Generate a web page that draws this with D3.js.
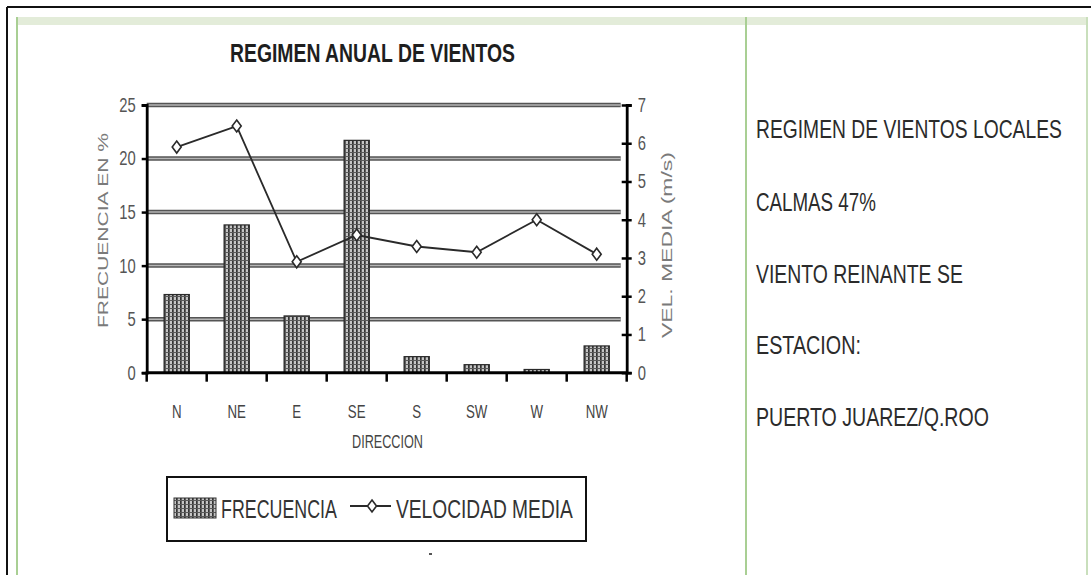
<!DOCTYPE html>
<html>
<head>
<meta charset="utf-8">
<script src="https://cdn.jsdelivr.net/npm/d3@7"></script>
<style>
  html, body { margin: 0; padding: 0; background: #fff; }
  svg { display: block; }
</style>
</head>
<body>
<svg id="chart" width="1091" height="575"></svg>
<script>
// Annual wind regime: frequency per direction (bars) and mean speed (line)
const directions = ["N", "NE", "E", "SE", "S", "SW", "W", "NW"];
const frecuencia = [7.3, 13.8, 5.3, 21.7, 1.5, 0.75, 0.3, 2.5];        // %
const velocidadMedia = [5.9, 6.45, 2.9, 3.6, 3.3, 3.15, 4.0, 3.1];     // m/s
const freqTicks = [0, 5, 10, 15, 20, 25];
const velTicks = [0, 1, 2, 3, 4, 5, 6, 7];
const notes = ["REGIMEN DE VIENTOS LOCALES", "CALMAS 47%", "VIENTO REINANTE SE", "ESTACION:", "PUERTO JUAREZ/Q.ROO"];

const svg = d3.select("#chart");
const FONT = '"Liberation Sans Narrow", "Arial Narrow", "Liberation Sans", Arial, sans-serif';

// Narrow lettering: squeeze a text horizontally to a given width.
function narrowText(parent, str, x, y, width, opts) {
  const t = parent.append("text").attr("x", 0).attr("y", 0)
    .attr("font-family", FONT).attr("font-size", opts.size)
    .attr("font-weight", opts.weight || "normal").attr("fill", opts.fill || "#222")
    .text(str);
  const natural = t.node().getComputedTextLength();
  const s = width / natural;
  const rot = opts.rotate ? ` rotate(${opts.rotate})` : "";
  t.attr("transform", `translate(${x},${y})${rot} scale(${s},1)`);
  return t;
}

// ---- page frame ----
svg.append("rect").attr("x", 17).attr("y", 17).attr("width", 1070).attr("height", 8).attr("fill", "#e3ecd9");
svg.append("line").attr("x1", 7).attr("y1", 7).attr("x2", 1091).attr("y2", 7).attr("stroke", "#111").attr("stroke-width", 2);
svg.append("line").attr("x1", 7).attr("y1", 7).attr("x2", 7).attr("y2", 575).attr("stroke", "#111").attr("stroke-width", 2);
svg.append("line").attr("x1", 17).attr("y1", 17).attr("x2", 17).attr("y2", 575).attr("stroke", "#a9cf94").attr("stroke-width", 2);
svg.append("line").attr("x1", 746).attr("y1", 17).attr("x2", 746).attr("y2", 575).attr("stroke", "#a9cf94").attr("stroke-width", 2);
svg.append("line").attr("x1", 1087).attr("y1", 17).attr("x2", 1087).attr("y2", 575).attr("stroke", "#c9dfbc").attr("stroke-width", 2);

// ---- hatch pattern for the bars ----
const defs = svg.append("defs");
const pat = defs.append("pattern").attr("id", "hatch").attr("patternUnits", "userSpaceOnUse")
  .attr("width", 4).attr("height", 4);
pat.append("rect").attr("width", 4).attr("height", 4).attr("fill", "#c4c4c4");
pat.append("rect").attr("x", 0).attr("y", 0).attr("width", 1.7).attr("height", 4).attr("fill", "#333");
pat.append("rect").attr("x", 0).attr("y", 0).attr("width", 4).attr("height", 1).attr("fill", "#5a5a5a");

// ---- scales ----
const plot = { left: 146.7, right: 626.7, top: 105, bottom: 372.7 };
const x = d3.scaleBand().domain(directions).range([plot.left, plot.right]).padding(0);
const yF = d3.scaleLinear().domain([0, 25]).range([plot.bottom, plot.top]);
const yV = d3.scaleLinear().domain([0, 7]).range([plot.bottom, plot.top]);

// ---- title ----
narrowText(svg, "REGIMEN ANUAL DE VIENTOS", 230, 62, 285, { size: 25, weight: "bold", fill: "#1e1e1e" });

// ---- gridlines ----
const grid = svg.append("g");
freqTicks.filter(d => d > 0).forEach(d => {
  grid.append("line").attr("x1", plot.left).attr("x2", plot.right - 6)
    .attr("y1", yF(d)).attr("y2", yF(d)).attr("stroke", "#555").attr("stroke-width", 4.5);
  grid.append("line").attr("x1", plot.left).attr("x2", plot.right - 6)
    .attr("y1", yF(d)).attr("y2", yF(d)).attr("stroke", "#b5b5b5").attr("stroke-width", 1.5);
});

// ---- bars ----
const bw = x.bandwidth() * 0.42;
svg.append("g").selectAll("rect").data(directions).join("rect")
  .attr("x", d => x(d) + (x.bandwidth() - bw) / 2)
  .attr("y", (d, i) => yF(frecuencia[i]))
  .attr("width", bw)
  .attr("height", (d, i) => plot.bottom - yF(frecuencia[i]))
  .attr("fill", "url(#hatch)")
  .attr("stroke", "#2a2a2a").attr("stroke-width", 1.2);

// ---- axes ----
const leftAxis = svg.append("g").attr("transform", `translate(${plot.left},0)`)
  .call(d3.axisLeft(yF).tickValues(freqTicks).tickFormat(d3.format("d")).tickSize(5).tickPadding(6));
const rightAxis = svg.append("g").attr("transform", `translate(${plot.right},0)`)
  .call(d3.axisRight(yV).tickValues(velTicks).tickFormat(d3.format("d")).tickSize(5).tickPadding(7));
rightAxis.selectAll(".tick line").attr("x1", -5);
[leftAxis, rightAxis].forEach(a => {
  a.select(".domain").attr("stroke", "#000").attr("stroke-width", 2.8);
  a.selectAll(".tick line").attr("stroke", "#000").attr("stroke-width", 2.5);
  a.selectAll(".tick text").attr("font-family", FONT).attr("font-size", 20).attr("fill", "#555");
});
// condensed digits, keeping each label anchored at its axis side
leftAxis.selectAll(".tick text").attr("transform", "translate(-11,0) scale(0.74,1)").attr("x", 0);
rightAxis.selectAll(".tick text").attr("transform", "translate(11,0) scale(0.74,1)").attr("x", 0);

// bottom axis with ticks at category boundaries
const bottom = svg.append("g").attr("transform", `translate(0,${plot.bottom})`)
  .call(d3.axisBottom(x).tickSize(0).tickPadding(0));
bottom.select(".domain").remove();
bottom.selectAll(".tick text").attr("font-family", FONT).attr("font-size", 19).attr("fill", "#444")
  .attr("dy", 0).attr("y", 0).attr("transform", "translate(0,45) scale(0.7,1)");
svg.append("line").attr("x1", plot.left - 1).attr("x2", plot.right + 1)
  .attr("y1", plot.bottom).attr("y2", plot.bottom).attr("stroke", "#000").attr("stroke-width", 3);
const bounds = directions.map(d => x(d)).concat([plot.right]);
svg.append("g").selectAll("line").data(bounds).join("line")
  .attr("x1", d => d).attr("x2", d => d)
  .attr("y1", plot.bottom).attr("y2", plot.bottom + 9)
  .attr("stroke", "#000").attr("stroke-width", 2.5);

// axis titles
narrowText(svg, "FRECUENCIA EN %", 108, 328, 195, { size: 15, fill: "#7a7a7a", rotate: -90 });
narrowText(svg, "VEL. MEDIA (m/s)", 672, 338, 186, { size: 15, fill: "#7a7a7a", rotate: -90 });
narrowText(svg, "DIRECCION", 352, 448, 71, { size: 19, fill: "#444" });

// ---- mean speed line ----
const cx = d => x(d) + x.bandwidth() / 2;
const line = d3.line().x(d => cx(d)).y((d, i) => yV(velocidadMedia[i]));
svg.append("path").datum(directions).attr("d", line)
  .attr("fill", "none").attr("stroke", "#2a2a2a").attr("stroke-width", 1.8);
const diamond = "M0,-6L4.5,0L0,6L-4.5,0Z";
svg.append("g").selectAll("path").data(directions).join("path")
  .attr("d", diamond)
  .attr("transform", (d, i) => `translate(${cx(d)},${yV(velocidadMedia[i])})`)
  .attr("fill", "#fff").attr("stroke", "#2a2a2a").attr("stroke-width", 1.6);

// ---- legend ----
const lg = svg.append("g");
lg.append("rect").attr("x", 167).attr("y", 477).attr("width", 419).attr("height", 64)
  .attr("fill", "#fff").attr("stroke", "#111").attr("stroke-width", 2);
lg.append("rect").attr("x", 174).attr("y", 498).attr("width", 42).attr("height", 20)
  .attr("fill", "url(#hatch)").attr("stroke", "#333").attr("stroke-width", 1);
narrowText(lg, "FRECUENCIA", 221, 518, 116, { size: 26, fill: "#333" });
lg.append("line").attr("x1", 350).attr("x2", 391).attr("y1", 506).attr("y2", 506)
  .attr("stroke", "#2a2a2a").attr("stroke-width", 1.8);
lg.append("path").attr("d", diamond).attr("transform", "translate(372,506)")
  .attr("fill", "#fff").attr("stroke", "#2a2a2a").attr("stroke-width", 1.6);
narrowText(lg, "VELOCIDAD MEDIA", 396, 518, 177, { size: 26, fill: "#333" });
lg.append("rect").attr("x", 429).attr("y", 553).attr("width", 3).attr("height", 2).attr("fill", "#555");

// ---- side notes ----
const noteBaselines = [138, 211, 283, 354, 426];
const noteWidths = [306, 120, 207, 105, 233];
const side = svg.append("g");
notes.forEach((d, i) => narrowText(side, d, 756, noteBaselines[i], noteWidths[i], { size: 26, fill: "#2b2b2b" }));
</script>
</body>
</html>
